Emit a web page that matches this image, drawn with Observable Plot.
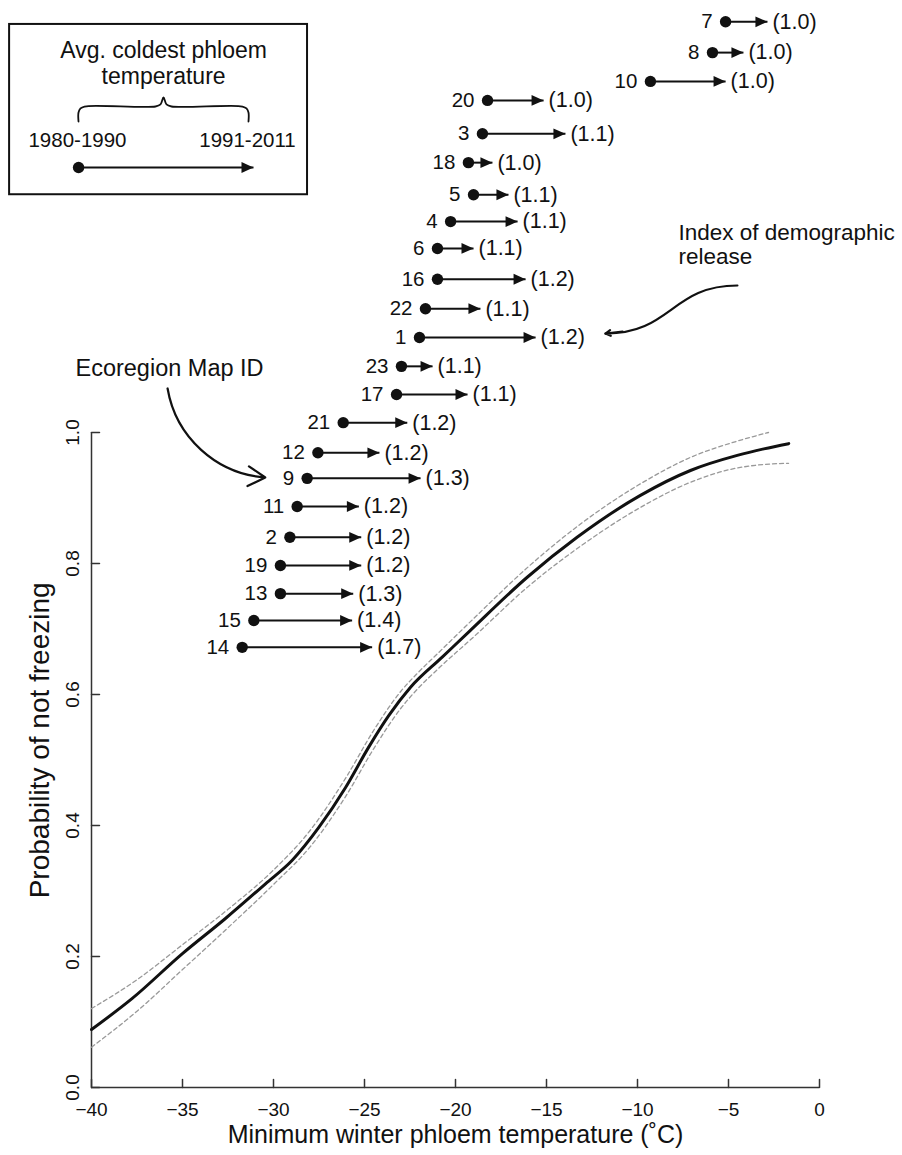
<!DOCTYPE html>
<html><head><meta charset="utf-8">
<script src="https://cdn.jsdelivr.net/npm/d3@7"></script>
<script src="https://cdn.jsdelivr.net/npm/@observablehq/plot@0.6"></script>
<style>
body{margin:0;background:#fff}
#chart svg{display:block}
</style>
</head><body><div id="chart"></div>
<script>
// ---- Ecoregion rows (top to bottom) ----
const ids        = [7, 8, 10, 20, 3, 18, 5, 4, 6, 16, 22, 1, 23, 17, 21, 12, 9, 11, 2, 19, 13, 15, 14];
const rowY       = [1.627, 1.580, 1.536, 1.507, 1.456, 1.412, 1.363, 1.322, 1.281, 1.234, 1.189, 1.145, 1.101, 1.058, 1.015, 0.969, 0.930, 0.887, 0.840, 0.797, 0.754, 0.713, 0.672];
const temp1980   = [-5.16, -5.88, -9.29, -18.24, -18.52, -19.29, -19.01, -20.27, -20.99, -20.99, -21.65, -21.98, -22.97, -23.24, -26.17, -27.56, -28.15, -28.70, -29.10, -29.62, -29.62, -31.08, -31.72];
const temp1991   = [-2.86, -4.18, -5.16, -15.16, -13.96, -17.97, -17.09, -16.59, -19.01, -16.15, -18.63, -15.60, -21.26, -19.34, -22.65, -24.18, -21.92, -25.31, -25.18, -25.18, -25.62, -25.68, -24.58];
const releaseIdx = [1.0, 1.0, 1.0, 1.0, 1.1, 1.0, 1.1, 1.1, 1.1, 1.2, 1.1, 1.2, 1.1, 1.1, 1.2, 1.2, 1.3, 1.2, 1.2, 1.2, 1.3, 1.4, 1.7];

// ---- Probability curve and confidence band ----
const curveT = [-40, -37.76, -35.02, -32.64, -30.44, -28.97, -27.51, -26.04, -24.76, -23.66, -22.47, -20.73, -19.18, -16.06, -13.32, -9.84, -7.09, -4.52, -3.06, -1.69];
const curveP = [0.0885, 0.136, 0.204, 0.258, 0.311, 0.347, 0.397, 0.458, 0.520, 0.568, 0.611, 0.657, 0.698, 0.779, 0.840, 0.904, 0.942, 0.965, 0.975, 0.983];
const upperT = [-40, -37.5, -35, -32.5, -30, -28, -26, -24.5, -23, -22, -21, -19, -16, -13, -10, -7, -4.5, -2.8];
const upperP = [0.1205, 0.1645, 0.218, 0.272, 0.332, 0.392, 0.474, 0.545, 0.605, 0.635, 0.662, 0.716, 0.795, 0.863, 0.919, 0.963, 0.987, 1.000];
const lowerT = [-40, -37.5, -35, -32.5, -30, -28, -26, -24.5, -23, -22, -21, -19, -16, -13, -10, -7, -5, -3.5, -1.7];
const lowerP = [0.0615, 0.1165, 0.180, 0.244, 0.310, 0.367, 0.446, 0.517, 0.579, 0.611, 0.638, 0.688, 0.765, 0.829, 0.883, 0.925, 0.943, 0.950, 0.953];

// ---- Axes ----
const xTicks = [-40, -35, -30, -25, -20, -15, -10, -5, 0];
const yTicks = [0, 0.2, 0.4, 0.6, 0.8, 1.0];
const xTitle = "Minimum winter phloem temperature (˚C)";
const yTitle = "Probability of not freezing";

// ---- Legend (inset box) ----
const legendBox   = [{x1: -44.5, x2: -28.13, y1: 1.363, y2: 1.623}];
const legendTitle = [{x: -36.04, y: 1.565, text: "Avg. coldest phloem\ntemperature"}];
const legendBraceX = [-40.714, -40.714, -40.604, -40.385, -36.484, -36.209, -36.044, -35.879, -35.604, -31.703, -31.484, -31.374, -31.374];
const legendBraceY = [1.4748, 1.4885, 1.4947, 1.4977, 1.4977, 1.5008, 1.5115, 1.5008, 1.4977, 1.4977, 1.4947, 1.4885, 1.4748];
const legendPeriods = [{x: -40.77, y: 1.4458, text: "1980-1990"}, {x: -31.43, y: 1.4458, text: "1991-2011"}];
const legendArrow = [{t0: -40.71, t1: -31.10, y: 1.4046}];

// ---- Annotations ----
const ecoText  = [{x: -40.88, y: 1.0977, text: "Ecoregion Map ID"}];
const ecoArrow = [{x1: -35.82, y1: 1.0672, x2: -30.45, y2: 0.9313}];
const idxText  = [{x: -7.75, y: 1.287, text: "Index of demographic\nrelease"}];
const idxCurve = [{x: -4.51, y: 1.2244}, {x: -11.76, y: 1.1511}];
const idxHead  = [{x1: -10.82, y1: 1.1542, x2: -11.76, y2: 1.1511}];

const rows = ids.map((id, i) => ({id, y: rowY[i], t0: temp1980[i], t1: temp1991[i], idx: releaseIdx[i]}));
const curve = curveT.map((t, i) => ({t, p: curveP[i]}));
const upper = upperT.map((t, i) => ({t, p: upperP[i]}));
const lower = lowerT.map((t, i) => ({t, p: lowerP[i]}));
const brace = legendBraceX.map((x, i) => ({x, y: legendBraceY[i]}));

// filled arrowhead whose tip sits on the point
const headSymbol = {draw(ctx) { ctx.moveTo(0, 0); ctx.lineTo(-12, -5.4); ctx.lineTo(-12, 5.4); ctx.closePath(); }};
const ink = "#111";
const axisInk = "#333";
const fmtX = d3.format("");
const fmtY = d3.format(".1f");

const plot = Plot.plot({
  width: 902,
  height: 1155,
  marginLeft: 91, marginRight: 83, marginTop: 0, marginBottom: 68,
  x: {domain: [-40, 0], range: [91, 819], axis: null},
  y: {domain: [0, 1], range: [1087, 432], axis: null},
  style: {fontFamily: "'Liberation Sans', Arial, Helvetica, sans-serif", color: ink, background: "white"},
  marks: [
    // axes
    Plot.ruleY([0], {x1: -40, x2: 0, stroke: axisInk, strokeWidth: 1.5}),
    Plot.ruleX([-40], {y1: 0, y2: 1, stroke: axisInk, strokeWidth: 1.5}),
    Plot.vector(xTicks, {x: d => d, y: 0, length: 8, rotate: 0, anchor: "start", r: 0, stroke: axisInk, strokeWidth: 1.5}),
    Plot.vector(yTicks, {x: -40, y: d => d, length: 8, rotate: 90, anchor: "start", r: 0, stroke: axisInk, strokeWidth: 1.5}),
    Plot.text(xTicks, {x: d => d, y: 0, dy: 22, text: d => fmtX(d), fontSize: 19, fill: ink}),
    Plot.text(yTicks, {x: -40, y: d => d, dx: -19, rotate: -90, text: d => fmtY(d), fontSize: 19, fill: ink}),
    Plot.text([xTitle], {frameAnchor: "bottom", dy: 55, text: d => d, fontSize: 25, fill: ink}),
    Plot.text([yTitle], {x: -40, y: 0.53, dx: -51, rotate: -90, text: d => d, fontSize: 28, fill: ink}),

    // confidence band and fitted curve
    Plot.line(upper, {x: "t", y: "p", curve: "monotone-x", stroke: "#999", strokeWidth: 1.3, strokeDasharray: "4,3"}),
    Plot.line(lower, {x: "t", y: "p", curve: "monotone-x", stroke: "#999", strokeWidth: 1.3, strokeDasharray: "4,3"}),
    Plot.line(curve, {x: "t", y: "p", curve: "monotone-x", stroke: ink, strokeWidth: 3}),

    // ecoregion arrows
    Plot.link(rows, {x1: "t0", x2: "t1", y1: "y", y2: "y", stroke: ink, strokeWidth: 2}),
    Plot.dot(rows, {x: "t1", y: "y", symbol: headSymbol, fill: ink, r: 5}),
    Plot.dot(rows, {x: "t0", y: "y", r: 5.7, fill: ink}),
    Plot.text(rows, {x: "t0", y: "y", text: d => String(d.id), textAnchor: "end", dx: -13, fontSize: 20.5, fill: ink}),
    Plot.text(rows, {x: "t1", y: "y", text: d => `(${d.idx.toFixed(1)})`, textAnchor: "start", dx: 5, fontSize: 21.5, fill: ink}),

    // legend
    Plot.rect(legendBox, {x1: "x1", x2: "x2", y1: "y1", y2: "y2", fill: "white", stroke: ink, strokeWidth: 2}),
    Plot.text(legendTitle, {x: "x", y: "y", text: "text", fontSize: 23, lineHeight: 1.17, fill: ink}),
    Plot.line(brace, {x: "x", y: "y", curve: "catmull-rom", stroke: ink, strokeWidth: 1.8}),
    Plot.text(legendPeriods, {x: "x", y: "y", text: "text", fontSize: 20.5, fill: ink}),
    Plot.link(legendArrow, {x1: "t0", x2: "t1", y1: "y", y2: "y", stroke: ink, strokeWidth: 2}),
    Plot.dot(legendArrow, {x: "t1", y: "y", symbol: headSymbol, fill: ink, r: 5}),
    Plot.dot(legendArrow, {x: "t0", y: "y", r: 5.7, fill: ink}),

    // annotations
    Plot.text(ecoText, {x: "x", y: "y", text: "text", textAnchor: "start", fontSize: 23.5, fill: ink}),
    Plot.arrow(ecoArrow, {x1: "x1", y1: "y1", x2: "x2", y2: "y2", bend: -38, headLength: 13.5, headAngle: 60, stroke: ink, strokeWidth: 2.2}),
    Plot.text(idxText, {x: "x", y: "y", text: "text", textAnchor: "start", fontSize: 22.5, lineHeight: 1.08, fill: ink}),
    Plot.line(idxCurve, {x: "x", y: "y", curve: "bump-x", stroke: ink, strokeWidth: 2.2}),
    Plot.arrow(idxHead, {x1: "x1", y1: "y1", x2: "x2", y2: "y2", headLength: 12.5, headAngle: 60, stroke: ink, strokeWidth: 2.2})
  ]
});
document.getElementById("chart").appendChild(plot);
</script>
</body></html>
